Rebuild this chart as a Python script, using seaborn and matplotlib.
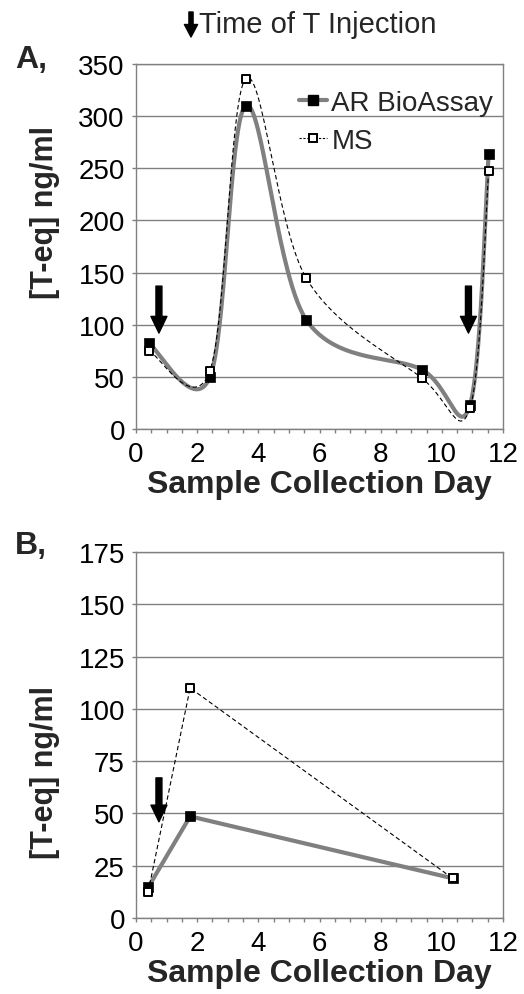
import numpy as np
import pandas as pd
import matplotlib
matplotlib.use("Agg")
import matplotlib.pyplot as plt
from matplotlib.ticker import MultipleLocator
from matplotlib.lines import Line2D
import seaborn as sns

# ---------------- data ----------------
days_a = [0.42, 2.42, 3.59, 5.56, 9.34, 10.92, 11.53]
ar_a = [82, 50, 310, 105, 57, 23, 264]
ms_a = [75, 56, 336, 145, 49, 20, 247]

days_b = [0.40, 1.77, 10.35]
ar_b = [14.7, 48.6, 19]
ms_b = [12.6, 110, 19]

injection_a = [0.75, 10.87]
injection_b = [0.75]

xticks = [0, 2, 4, 6, 8, 10, 12]
yticks_a = [0, 50, 100, 150, 200, 250, 300, 350]
yticks_b = [0, 25, 50, 75, 100, 125, 150, 175]

GRAY = "#808080"


def excel_smooth(x, y, n=60):
    """Bezier smoothing like a spreadsheet 'smoothed line' (Catmull-Rom style)."""
    p = np.column_stack([x, y]).astype(float)
    m = len(p)
    out = []
    for i in range(m - 1):
        p0 = p[i]
        p3 = p[i + 1]
        prev = p[i - 1] if i > 0 else p[i]
        nxt = p[i + 2] if i + 2 < m else p[i + 1]
        c1 = p0 + (p3 - prev) / 6.0
        c2 = p3 - (nxt - p0) / 6.0
        t = np.linspace(0, 1, n)[:, None]
        seg = ((1 - t) ** 3) * p0 + 3 * ((1 - t) ** 2) * t * c1 + 3 * (1 - t) * t ** 2 * c2 + t ** 3 * p3
        if i > 0:
            seg = seg[1:]
        out.append(seg)
    out = np.vstack(out)
    return out[:, 0], out[:, 1]


sns.set_theme(style="white")
plt.rcParams["font.family"] = ["Liberation Sans", "DejaVu Sans"]

fig = plt.figure(figsize=(5.24, 9.95), dpi=100)
ax_a = fig.add_axes([136 / 524, 1 - 430 / 995, 367 / 524, 365 / 995])
ax_b = fig.add_axes([136 / 524, 1 - 919 / 995, 367 / 524, 366 / 995])


def style_axes(ax, ymax, yticks, ylabel_y):
    ax.set_xlim(0, 12)
    ax.set_ylim(0, ymax)
    ax.set_xticks(xticks)
    ax.set_xticklabels([str(v) for v in xticks])
    ax.xaxis.set_minor_locator(MultipleLocator(0.5))
    ax.set_yticks(yticks)
    ax.set_yticklabels([str(v) for v in yticks])
    ax.yaxis.grid(True, color=GRAY, linewidth=1.0)
    ax.xaxis.grid(False)
    ax.set_axisbelow(True)
    for s in ax.spines.values():
        s.set_color(GRAY)
        s.set_linewidth(1.0)
    ax.tick_params(axis="x", which="both", bottom=True, direction="out",
                   length=3, width=1, color=GRAY, labelsize=20, pad=6, labelcolor="black")
    ax.tick_params(axis="y", which="both", left=True, direction="out",
                   length=3, width=1, color=GRAY, labelsize=20, pad=5, labelcolor="black")
    ax.set_xlabel("Sample Collection Day", fontsize=23, fontweight="bold", labelpad=1)
    ax.set_ylabel("[T-eq] ng/ml", fontsize=22, fontweight="bold")
    ax.yaxis.set_label_coords(-0.207, ylabel_y)


style_axes(ax_a, 350, yticks_a, 0.595)
style_axes(ax_b, 175, yticks_b, 0.40)

# ---------- Panel A (smoothed lines) ----------
sx, sy = excel_smooth(days_a, ar_a)
sns.lineplot(x=sx, y=sy, ax=ax_a, sort=False, estimator=None, color=GRAY, linewidth=3.0, zorder=3)
mx, my = excel_smooth(days_a, ms_a)
sns.lineplot(x=mx, y=my, ax=ax_a, sort=False, estimator=None, color="black", linewidth=0.8,
             linestyle=(0, (4, 2.5)), zorder=4)
sns.scatterplot(x=days_a, y=ar_a, ax=ax_a, marker="s", s=55, color="black", edgecolor="black",
                linewidth=0.5, zorder=5)
sns.scatterplot(x=days_a, y=ms_a, ax=ax_a, marker="s", s=40, color="white", edgecolor="black",
                linewidth=1.4, zorder=6)

# ---------- Panel B (straight lines) ----------
sns.lineplot(x=days_b, y=ar_b, ax=ax_b, sort=False, estimator=None, color=GRAY, linewidth=3.0, zorder=3)
sns.lineplot(x=days_b, y=ms_b, ax=ax_b, sort=False, estimator=None, color="black", linewidth=0.8,
             linestyle=(0, (4, 2.5)), zorder=4)
sns.scatterplot(x=days_b, y=ar_b, ax=ax_b, marker="s", s=55, color="black", edgecolor="black",
                linewidth=0.5, zorder=5)
sns.scatterplot(x=days_b, y=ms_b, ax=ax_b, marker="s", s=40, color="white", edgecolor="black",
                linewidth=1.4, zorder=6)

arrow_kw = dict(width=4.3, headwidth=11.5, headlength=12, color="black", shrink=0.0)
for xv in injection_a:
    ax_a.annotate("", xy=(xv, 92), xytext=(xv, 137), arrowprops=arrow_kw, zorder=7)
for xv in injection_b:
    ax_b.annotate("", xy=(xv, 46), xytext=(xv, 67), arrowprops=arrow_kw, zorder=7)

# legend (panel A)
handles = [
    Line2D([], [], color=GRAY, linewidth=3.0, marker="s", markersize=7.5,
           markerfacecolor="black", markeredgecolor="black"),
    Line2D([], [], color="black", linewidth=0.8, linestyle=(0, (2, 1.5)), marker="s", markersize=6.3,
           markerfacecolor="white", markeredgecolor="black", markeredgewidth=1.4),
]
ax_a.legend(handles, ["AR BioAssay", "MS"], loc="upper left", bbox_to_anchor=(0.445, 0.93),
            frameon=False, fontsize=20, handlelength=1.0, handletextpad=0.15,
            labelspacing=0.45, borderpad=0, borderaxespad=0)

# panel letters
fig.text(15 / 524, 1 - 60 / 995, "A,", fontsize=23, fontweight="bold", va="center", ha="left")
fig.text(15 / 524, 1 - 546 / 995, "B,", fontsize=23, fontweight="bold", va="center", ha="left")

# header with injection arrow
fig.text(199 / 524, 1 - 25 / 995, "Time of T Injection", fontsize=21, va="center", ha="left")
fig.add_artist(plt.Annotation(
    "", xy=(191 / 524, 1 - 38 / 995), xytext=(191 / 524, 1 - 13 / 995),
    xycoords="figure fraction", textcoords="figure fraction",
    arrowprops=dict(width=3.0, headwidth=9.5, headlength=9, color="black", shrink=0.0)))

fig.savefig("out.png", dpi=100)
